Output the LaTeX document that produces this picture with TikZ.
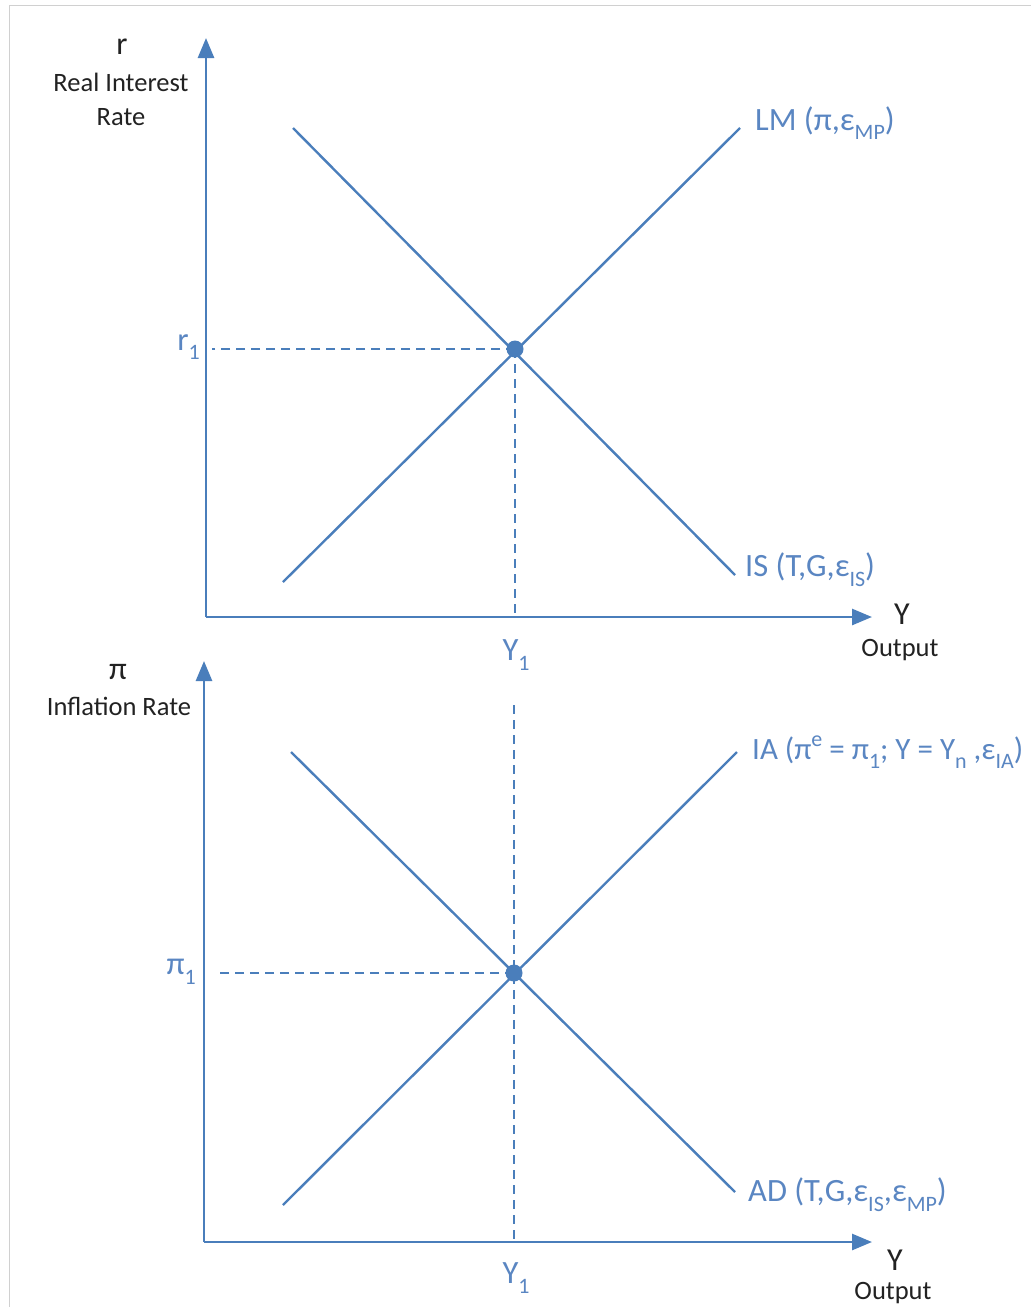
\documentclass[tikz,border=0pt]{standalone}
\usepackage{fontspec}
\setmainfont{Carlito}
\usetikzlibrary{arrows.meta}
\definecolor{lineblue}{HTML}{4A7EBB}
\definecolor{textblue}{HTML}{5A86C2}
\definecolor{txt}{HTML}{222222}
\definecolor{frame}{HTML}{D0D0D0}
\newcommand\lowsub[1]{\raisebox{-0.3em}{\fontsize{22}{22}\selectfont #1}}
\newcommand\highsup[1]{\raisebox{0.42em}{\fontsize{22}{22}\selectfont #1}}
\begin{document}
\begin{tikzpicture}[x=1pt,y=-1pt,
  axis/.style={draw=lineblue,line width=2.7pt,-{Triangle[length=20pt,width=16pt]}},
  curve/.style={draw=lineblue,line width=2.4pt},
  guide/.style={draw=lineblue,line width=2.2pt,dash pattern=on 9pt off 6pt},
  dot/.style={circle,fill=lineblue,inner sep=0pt,minimum size=17pt},
  blab/.style={text=textblue,font=\fontsize{32.5}{36}\selectfont,inner sep=0pt},
  klab/.style={text=txt,font=\fontsize{26.5}{34}\selectfont,inner sep=0pt,align=center},
  bigk/.style={text=txt,font=\fontsize{32}{34}\selectfont,inner sep=0pt}]
\useasboundingbox (0,0) rectangle (1031,1307);
\fill[white] (0,0) rectangle (1031,1307);
\draw[frame,line width=1pt] (9,1307) -- (9,5) -- (1031,5);

% ---------- top panel ----------
\coordinate (O1) at (206,617);
\coordinate (ytop1) at (206,38);
\coordinate (xend1) at (872,617);
\draw[axis] (O1) -- (ytop1);
\draw[axis] (O1) -- (xend1);
\coordinate (is1) at (293,128);
\coordinate (is2) at (735,575);
\coordinate (lm1) at (283,582);
\coordinate (lm2) at (740,128);
\draw[curve] (is1) -- (is2);
\draw[curve] (lm1) -- (lm2);
\node[dot] (E1) at (515,349) {};
\coordinate (r1a) at (212,349);
\coordinate (y1a) at (515,617);
\draw[guide] (E1.center) -- (r1a);
\draw[guide] (E1.center) -- (y1a);

\node[bigk] (rlab) at (122,47) {r};
\node[klab] (rrate) at (121,99) {Real Interest\\Rate};
\node[blab,anchor=east] (r1lab) at (200,347) {r\lowsub{1}};
\node[blab,anchor=west] (lmlab) at (755,123) {LM (π,ε\lowsub{MP})};
\node[blab,anchor=west] (islab) at (745,570) {IS (T,G,ε\lowsub{IS})};
\node[bigk] (Ylab1) at (902,614) {Y};
\node[klab] (out1) at (900,650) {Output};
\node[blab] (Y1lab) at (516,655) {Y\lowsub{1}};

% ---------- bottom panel ----------
\coordinate (O2) at (204,1242);
\coordinate (ytop2) at (204,661);
\coordinate (xend2) at (872,1242);
\draw[axis] (O2) -- (ytop2);
\draw[axis] (O2) -- (xend2);
\coordinate (ad1) at (291,752);
\coordinate (ad2) at (735,1192);
\coordinate (ia1) at (283,1205);
\coordinate (ia2) at (737,752);
\draw[curve] (ad1) -- (ad2);
\draw[curve] (ia1) -- (ia2);
\node[dot] (E2) at (514,973) {};
\coordinate (p1a) at (218,973);
\coordinate (vtop) at (514,705);
\coordinate (y1b) at (514,1242);
\draw[guide] (E2.center) -- (p1a);
\draw[guide] (vtop) -- (y1b);

\node[bigk] (pilab) at (118,672) {π};
\node[klab] (prate) at (119,706) {Inflation Rate};
\node[blab,anchor=east] (p1lab) at (196,972) {π\lowsub{1}};
\node[blab,anchor=west,font=\fontsize{31}{34}\selectfont] (ialab) at (752,752) {IA (π\highsup{e} = π\lowsub{1}; Y = Y\lowsub{n} ,ε\lowsub{IA})};
\node[blab,anchor=west] (adlab) at (748,1195) {AD (T,G,ε\lowsub{IS},ε\lowsub{MP})};
\node[bigk] (Ylab2) at (895,1260) {Y};
\node[klab] (out2) at (893,1293) {Output};
\node[blab] (Y1lab2) at (516,1278) {Y\lowsub{1}};
\end{tikzpicture}
\end{document}
